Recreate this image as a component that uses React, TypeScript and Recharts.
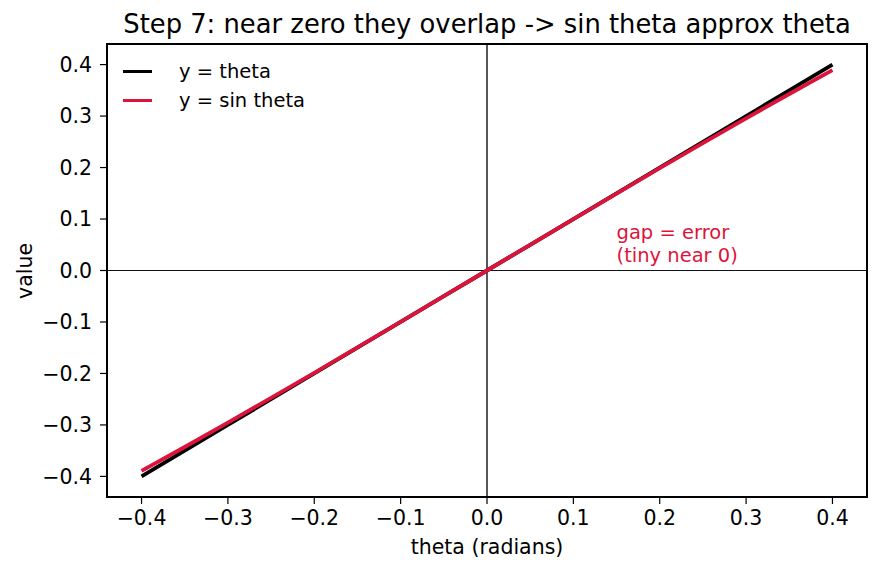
import { LineChart, Line, XAxis, YAxis, ReferenceLine, ReferenceDot } from "recharts";

const thetaValues = [-0.4, -0.35, -0.3, -0.25, -0.2, -0.15, -0.1, -0.05, 0, 0.05, 0.1, 0.15, 0.2, 0.25, 0.3, 0.35, 0.4];
const lineValues = [-0.4, -0.35, -0.3, -0.25, -0.2, -0.15, -0.1, -0.05, 0, 0.05, 0.1, 0.15, 0.2, 0.25, 0.3, 0.35, 0.4];
const sinValues = [-0.3894, -0.3429, -0.2955, -0.2474, -0.1987, -0.1494, -0.0998, -0.05, 0, 0.05, 0.0998, 0.1494, 0.1987, 0.2474, 0.2955, 0.3429, 0.3894];
const tickValues = [-0.4, -0.3, -0.2, -0.1, 0, 0.1, 0.2, 0.3, 0.4];

const data = thetaValues.map((t, i) => ({ theta: t, y: lineValues[i], s: sinValues[i] }));

const FONT = "'DejaVu Sans', sans-serif";
const RED = "#dc143c";

const fmt = (v: number) => (v < 0 ? "\u2212" : "") + Math.abs(v).toFixed(1);

const legendItems = [
	{ label: "y = theta", color: "#000" },
	{ label: "y = sin theta", color: RED },
];

const annotation = (props: any) => (
	<text x={props.cx} y={props.cy} fill={RED} fontFamily={FONT} fontSize={19.5}>
		<tspan x={props.cx} dy={-21}>gap = error</tspan>
		<tspan x={props.cx} dy={23}>(tiny near 0)</tspan>
	</text>
);

export default function App() {
	return (
		<div style={{ position: "absolute", left: 0, top: 0, width: 880, height: 573, background: "#fff" }}>
			<div style={{ position: "absolute", left: 107, width: 760, top: 10, textAlign: "center", fontFamily: FONT, fontSize: 25.8, lineHeight: "29px" }}>
				Step 7: near zero they overlap -&gt; sin theta approx theta
			</div>
			<div style={{ position: "absolute", left: 107, width: 760, top: 535, textAlign: "center", fontFamily: FONT, fontSize: 20.5, lineHeight: "24px" }}>
				theta (radians)
			</div>
			<div style={{ position: "absolute", left: 25, top: 271, transform: "translate(-50%, -50%) rotate(-90deg)", fontFamily: FONT, fontSize: 20.5, lineHeight: "24px" }}>
				value
			</div>
			<LineChart width={880} height={573} data={data} margin={{ top: 44, right: 13, left: 47, bottom: 46 }}>
				<XAxis
					dataKey="theta"
					type="number"
					domain={[-0.44, 0.44]}
					ticks={tickValues}
					tickFormatter={fmt}
					allowDataOverflow
					height={30}
					axisLine={false}
					tickSize={7}
					tickMargin={6}
					tickLine={{ stroke: "#000", strokeWidth: 1.2 }}
					tick={{ fill: "#000", fontSize: 20.5, fontFamily: FONT }}
				/>
				<YAxis
					type="number"
					domain={[-0.44, 0.44]}
					ticks={tickValues}
					tickFormatter={fmt}
					allowDataOverflow
					width={60}
					axisLine={false}
					tickSize={7}
					tickMargin={8}
					tickLine={{ stroke: "#000", strokeWidth: 1.2 }}
					tick={{ fill: "#000", fontSize: 20.5, fontFamily: FONT }}
				/>
				<ReferenceLine x={0} stroke="#111" strokeWidth={1.4} />
				<ReferenceLine y={0} stroke="#111" strokeWidth={1.2} />
				<Line dataKey="y" stroke="#000" strokeWidth={3.8} dot={false} isAnimationActive={false} />
				<Line dataKey="s" stroke={RED} strokeWidth={3.8} dot={false} isAnimationActive={false} />
				<ReferenceDot x={0.15} y={0.02} r={0} shape={annotation} />
			</LineChart>
			<div
				style={{
					position: "absolute",
					left: 106,
					top: 43,
					width: 762,
					height: 455,
					border: "2px solid #000",
					boxSizing: "border-box",
					pointerEvents: "none",
				}}
			/>
			<div style={{ position: "absolute", left: 123, top: 57, fontFamily: FONT, fontSize: 19.5 }}>
				{legendItems.map((it) => (
					<div key={it.label} style={{ display: "flex", alignItems: "center", height: 29 }}>
						<div style={{ width: 29, height: 3.8, background: it.color, marginRight: 27 }} />
						<span>{it.label}</span>
					</div>
				))}
			</div>
		</div>
	);
}
